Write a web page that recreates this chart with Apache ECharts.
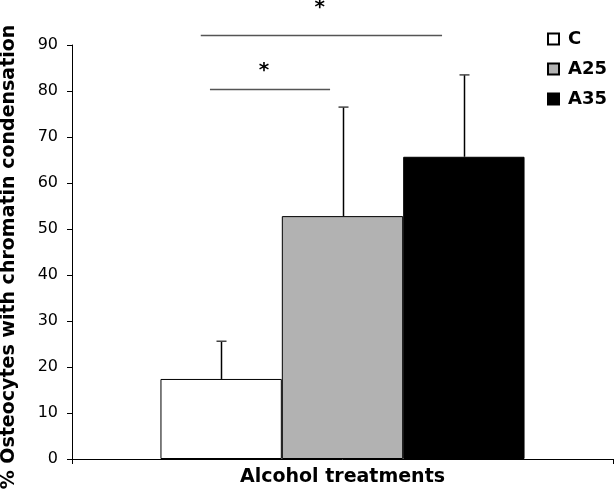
<!DOCTYPE html>
<html>
<head>
<meta charset="utf-8">
<script src="https://cdn.jsdelivr.net/npm/echarts@6/dist/echarts.min.js"></script>
<style>html,body{margin:0;padding:0;background:#fff}#c{width:615px;height:496px}</style>
</head>
<body>
<div id="c"></div>
<script>
// Data
var categories = ['Alcohol treatments'];
var seriesNames = ['C', 'A25', 'A35'];
var meanC = [17.4];
var meanA25 = [52.8];
var meanA35 = [65.7];
var errorTops = [25.6, 76.5, 83.5];
var yTicks = [0, 10, 20, 30, 40, 50, 60, 70, 80, 90];
// significance annotations: [x start %, x end %, y value]
var sigLines = [[23.8, 68.4, 92.2], [25.5, 47.7, 80.4]];
// stars: [x %, y value]
var sigStars = [[45.8, 98.1], [35.5, 84.5]];

var colors = ['#ffffff', '#b2b2b2', '#000000'];
var means = [meanC[0], meanA25[0], meanA35[0]];
var catGap = 0.327;
var FONT = 'DejaVu Sans';

var chart = echarts.init(document.getElementById('c'), null, {renderer: 'canvas'});

var barSeries = [meanC, meanA25, meanA35].map(function (d, i) {
  return {
    name: seriesNames[i],
    type: 'bar',
    data: d,
    barGap: '0%',
    barCategoryGap: (catGap * 100) + '%',
    itemStyle: {color: colors[i], borderColor: '#000', borderWidth: 1},
    z: 2
  };
});

var errData = errorTops.map(function (t, i) { return [0, means[i], t, i]; });

var option = {
  backgroundColor: '#fff',
  animation: false,
  textStyle: {fontFamily: FONT},
  grid: {left: 72, right: 2, top: 45, bottom: 37, containLabel: false, outerBoundsMode: 'none'},
  legend: {
    data: seriesNames,
    orient: 'vertical',
    left: 547,
    top: 30,
    padding: 0,
    itemWidth: 11,
    itemHeight: 11,
    itemGap: 12,
    icon: 'rect',
    textStyle: {fontFamily: FONT, fontWeight: 'bold', fontSize: 18, lineHeight: 18, color: '#000', padding: [0, 0, 0, 4]}
  },
  xAxis: [{
    type: 'category',
    data: categories,
    name: 'Alcohol treatments',
    nameLocation: 'middle',
    nameGap: 9,
    nameTextStyle: {fontFamily: FONT, fontWeight: 'bold', fontSize: 19, color: '#000'},
    axisLine: {lineStyle: {color: '#000', width: 1}},
    axisTick: {show: true, length: 5, lineStyle: {color: '#000'}},
    axisLabel: {show: false}
  }, {
    type: 'value', min: 0, max: 100, show: false
  }],
  yAxis: {
    type: 'value',
    min: yTicks[0],
    max: yTicks[yTicks.length - 1],
    interval: 10,
    name: '% Osteocytes with chromatin condensation',
    nameLocation: 'middle',
    nameGap: 53,
    nameTextStyle: {fontFamily: FONT, fontWeight: 'bold', fontSize: 19, color: '#000', padding: [0, 10, 0, 0]},
    axisLine: {show: true, lineStyle: {color: '#000', width: 1}},
    axisTick: {show: true, length: 5, lineStyle: {color: '#000'}},
    axisLabel: {fontFamily: FONT, fontSize: 16, color: '#000', margin: 14},
    splitLine: {show: false}
  },
  series: barSeries.concat([{
    type: 'custom',
    name: 'err',
    xAxisIndex: 0,
    data: errData,
    z: 3,
    clip: false,
    renderItem: function (params, api) {
      var i = api.value(3);
      var base = api.coord([0, api.value(1)]);
      var top = api.coord([0, api.value(2)]);
      var band = api.size([1, 0])[0];
      var bw = band * (1 - catGap) / 3;
      var cx = Math.round(base[0] + (i - 1) * bw) + 0.5;
      return {
        type: 'group',
        children: [{
          type: 'line',
          shape: {x1: cx, y1: base[1], x2: cx, y2: top[1]},
          style: {stroke: '#000', lineWidth: 1.5}
        }, {
          type: 'line',
          shape: {x1: cx - 5, y1: top[1], x2: cx + 5, y2: top[1]},
          style: {stroke: '#444', lineWidth: 1.5}
        }]
      };
    }
  }, {
    type: 'custom',
    name: 'sig',
    xAxisIndex: 1,
    data: sigLines,
    z: 3,
    clip: false,
    renderItem: function (params, api) {
      var p1 = api.coord([api.value(0), api.value(2)]);
      var p2 = api.coord([api.value(1), api.value(2)]);
      return {
        type: 'line',
        shape: {x1: p1[0], y1: Math.round(p1[1]) + 0.5, x2: p2[0], y2: Math.round(p2[1]) + 0.5},
        style: {stroke: '#555', lineWidth: 1.5}
      };
    }
  }, {
    type: 'custom',
    name: 'stars',
    xAxisIndex: 1,
    data: sigStars,
    z: 3,
    clip: false,
    renderItem: function (params, api) {
      var p = api.coord([api.value(0), api.value(1)]);
      return {
        type: 'text',
        x: p[0], y: p[1],
        style: {text: '*', fontFamily: FONT, fontWeight: 'bold', fontSize: 20, fill: '#000', align: 'center', verticalAlign: 'middle'}
      };
    }
  }])
};
chart.setOption(option);
</script>
</body>
</html>
